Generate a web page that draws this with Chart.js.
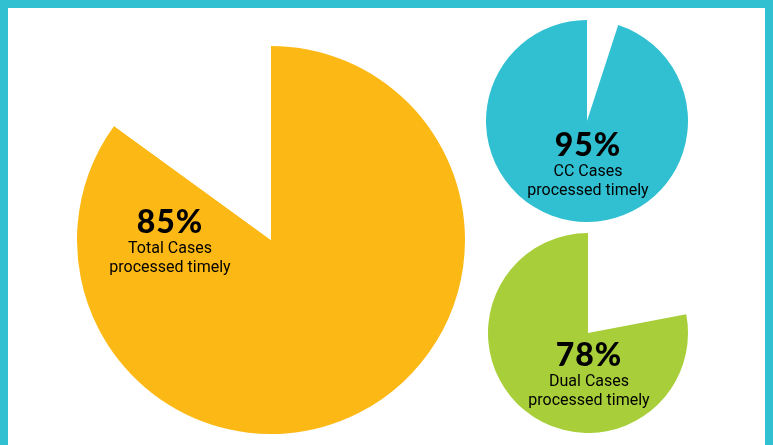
<!DOCTYPE html>
<html><head><meta charset="utf-8">
<script src="https://cdn.jsdelivr.net/npm/chart.js@4"></script>
<style>
html,body{margin:0;padding:0;}
body{width:773px;height:445px;background:#31C0D2;position:relative;overflow:hidden;font-family:Roboto,"Open Sans",sans-serif;}
#panel{position:absolute;left:8px;top:8px;width:757px;height:437px;background:#fff;}
.pie{position:absolute;}
.lbl{position:absolute;text-align:center;color:#000;transform:translateX(-50%);white-space:nowrap;}
.pct{font-weight:900;font-size:32px;line-height:34px;letter-spacing:1px;font-family:Lato,Roboto,sans-serif;}
.sub{font-size:16px;line-height:19px;}
</style></head>
<body>
<div id="panel"></div>
<div class="pie" style="left:77px;top:46px;"><canvas id="c0" width="388" height="388"></canvas></div>
<div class="pie" style="left:486px;top:20px;"><canvas id="c1" width="202" height="202"></canvas></div>
<div class="pie" style="left:488px;top:233px;"><canvas id="c2" width="200" height="200"></canvas></div>
<div class="lbl" id="l0" style="left:170px;top:204px;"></div>
<div class="lbl" id="l1" style="left:588px;top:127px;"></div>
<div class="lbl" id="l2" style="left:589px;top:337px;"></div>
<script>
const categories = ["Total Cases", "CC Cases", "Dual Cases"];
const timelyPct = [85, 95, 78];
const subLabel = "processed timely";
const colors = ["#FCB916", "#31C0D2", "#A8CE3A"];
// whether the filled slice starts at the top (true) or ends at the top (false)
const filledFirst = [true, false, false];

categories.forEach((cat, i) => {
  const v = timelyPct[i];
  const rest = 100 - v;
  const data = filledFirst[i] ? [v, rest] : [rest, v];
  const bg = filledFirst[i] ? [colors[i], "#ffffff"] : ["#ffffff", colors[i]];
  new Chart(document.getElementById("c" + i), {
    type: "pie",
    data: { labels: filledFirst[i] ? ["Timely", "Other"] : ["Other", "Timely"],
            datasets: [{ data, backgroundColor: bg, borderWidth: 0, hoverOffset: 0 }] },
    options: {
      responsive: false, animation: false,
      layout: { padding: 0 },
      plugins: { legend: { display: false }, tooltip: { enabled: false } },
      events: []
    }
  });
  const el = document.getElementById("l" + i);
  el.innerHTML = '<div class="pct">' + v + '%</div><div class="sub">' + cat + '</div><div class="sub">' + subLabel + '</div>';
});
</script>
</body></html>
